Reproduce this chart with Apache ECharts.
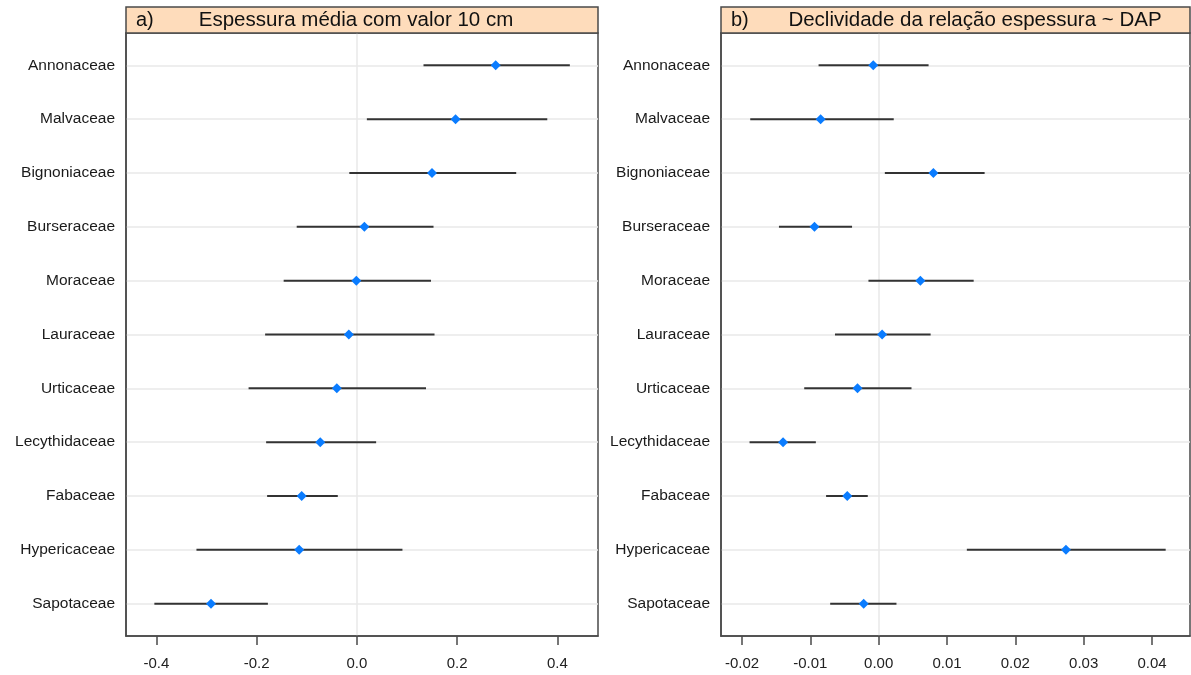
<!DOCTYPE html>
<html>
<head>
<meta charset="utf-8">
<script src="https://cdn.jsdelivr.net/npm/echarts@6/dist/echarts.min.js"></script>
<style>
  html, body { margin: 0; padding: 0; background: #fff; }
  #chart { width: 1191px; height: 675px; }
</style>
</head>
<body>
<div id="chart"></div>
<script>
// Families, top to bottom
const families = ['Annonaceae', 'Malvaceae', 'Bignoniaceae', 'Burseraceae', 'Moraceae',
  'Lauraceae', 'Urticaceae', 'Lecythidaceae', 'Fabaceae', 'Hypericaceae', 'Sapotaceae'];

// a) mean thickness at 10 cm: estimate and interval
const thickMid  = [0.277, 0.197, 0.150, 0.015, -0.001, -0.016, -0.040, -0.073, -0.110, -0.115, -0.291];
const thickLow  = [0.133, 0.020, -0.015, -0.120, -0.146, -0.183, -0.216, -0.181, -0.179, -0.320, -0.404];
const thickHigh = [0.425, 0.380, 0.318, 0.153, 0.148, 0.155, 0.138, 0.0385, -0.038, 0.091, -0.1775];

// b) slope of thickness ~ DAP: estimate and interval
const slopeMid  = [-0.0008, -0.0085, 0.0080, -0.0094, 0.0061, 0.0005, -0.0031, -0.0140, -0.0046, 0.0274, -0.0022];
const slopeLow  = [-0.0088, -0.0188, 0.0009, -0.0146, -0.0015, -0.0064, -0.0109, -0.0189, -0.0077, 0.0129, -0.0071];
const slopeHigh = [0.0073, 0.0022, 0.0155, -0.0039, 0.0139, 0.0076, 0.0048, -0.0092, -0.0016, 0.0420, 0.0026];

// Tick labels
const thickTicks = [-0.4, -0.2, 0.0, 0.2, 0.4];
const slopeTicks = [-0.02, -0.01, 0.00, 0.01, 0.02, 0.03, 0.04];

const panelTitles = ['Espessura média com valor 10 cm', 'Declividade da relação espessura ~ DAP'];
const panelTags = ['a)', 'b)'];

const FONT = 'Liberation Sans, Arial, Helvetica, sans-serif';
const FRAME = '#4a4a4a';
const GRIDLINE = '#e8e8e8';
const rowPos = families.map((_, i) => i + 1);

const grids = [
  { left: 126, width: 472, top: 33, height: 603 },
  { left: 721, width: 469, top: 33, height: 603 }
];

function xAxisFor(idx, min, max, ticks, digits) {
  return {
    type: 'value', gridIndex: idx, min: min, max: max,
    splitLine: { show: false },
    axisLine: { show: true, onZero: false, lineStyle: { color: FRAME, width: 1.5 } },
    axisTick: { show: true, customValues: ticks, length: 9, lineStyle: { color: FRAME, width: 1.5 } },
    axisLabel: {
      customValues: ticks, margin: 20, fontSize: 15, fontFamily: FONT, color: '#222',
      formatter: v => v.toFixed(digits)
    }
  };
}

function yAxisFor(idx) {
  return {
    type: 'value', gridIndex: idx, min: 0.4, max: 11.6, inverse: true,
    splitLine: { show: false },
    axisLine: { show: true, onZero: false, lineStyle: { color: FRAME, width: 1.5 } },
    axisTick: { show: false },
    axisLabel: {
      customValues: rowPos, margin: 11, fontSize: 15.5, fontFamily: FONT, color: '#1a1a1a',
      formatter: v => families[Math.round(v) - 1] || ''
    }
  };
}

function guideSeries(idx) {
  return {
    type: 'scatter', xAxisIndex: idx, yAxisIndex: idx, data: [], z: 1, silent: true,
    markLine: {
      z: 0, silent: true, symbol: 'none', label: { show: false },
      lineStyle: { color: GRIDLINE, width: 1.5, type: 'solid' },
      emphasis: { disabled: true },
      animation: false,
      data: rowPos.map(p => ({ yAxis: p })).concat([{ xAxis: 0 }])
    }
  };
}

function barSeries(idx, low, high) {
  return {
    type: 'custom', xAxisIndex: idx, yAxisIndex: idx, z: 2, silent: true,
    data: families.map((_, i) => [rowPos[i], low[i], high[i]]),
    encode: { x: [1, 2], y: 0 },
    renderItem: (params, api) => {
      const y = api.value(0);
      const a = api.coord([api.value(1), y]);
      const b = api.coord([api.value(2), y]);
      return {
        type: 'line',
        shape: { x1: a[0], y1: a[1], x2: b[0], y2: b[1] },
        style: { stroke: '#333333', lineWidth: 2 }
      };
    }
  };
}

function pointSeries(idx, mid) {
  return {
    type: 'scatter', xAxisIndex: idx, yAxisIndex: idx, z: 3,
    symbol: 'diamond', symbolSize: 10,
    itemStyle: { color: '#0a7cff', opacity: 1 },
    data: families.map((_, i) => [mid[i], rowPos[i]])
  };
}

function stripGraphics(g, idx, titleCenter) {
  return [
    {
      type: 'rect', z: 10,
      shape: { x: g.left, y: 7, width: g.width, height: 26 },
      style: { fill: '#fedcbb', stroke: FRAME, lineWidth: 1.5 }
    },
    {
      type: 'text', z: 11, x: g.left + 10, y: 20,
      style: { text: panelTags[idx], font: '20px ' + FONT, fill: '#111', textVerticalAlign: 'middle' }
    },
    {
      type: 'text', z: 11, x: titleCenter, y: 20,
      style: { text: panelTitles[idx], font: '20.5px ' + FONT, fill: '#111', textAlign: 'center', textVerticalAlign: 'middle' }
    }
  ];
}

const chart = echarts.init(document.getElementById('chart'), null, { renderer: 'canvas' });
chart.setOption({
  animation: false,
  backgroundColor: '#ffffff',
  grid: grids.map(g => Object.assign({ show: true, borderColor: FRAME, borderWidth: 1.5, backgroundColor: 'transparent' }, g)),
  xAxis: [
    xAxisFor(0, -0.4606, 0.4812, thickTicks, 1),
    xAxisFor(1, -0.02308, 0.04556, slopeTicks, 2)
  ],
  yAxis: [yAxisFor(0), yAxisFor(1)],
  series: [
    guideSeries(0), barSeries(0, thickLow, thickHigh), pointSeries(0, thickMid),
    guideSeries(1), barSeries(1, slopeLow, slopeHigh), pointSeries(1, slopeMid)
  ],
  graphic: stripGraphics(grids[0], 0, 356).concat(stripGraphics(grids[1], 1, 975))
});
</script>
</body>
</html>
